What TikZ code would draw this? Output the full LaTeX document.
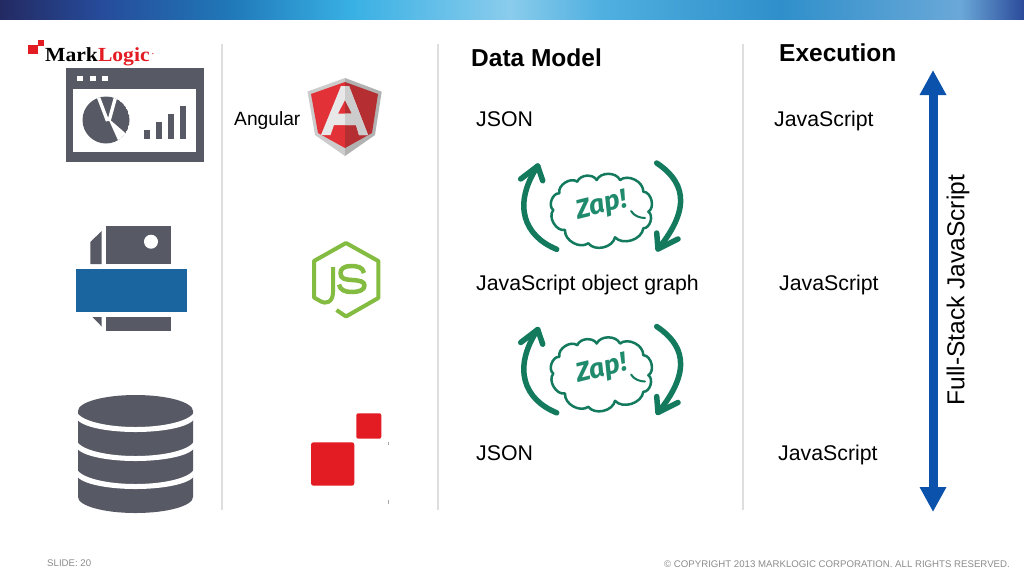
\documentclass[tikz,border=0pt]{standalone}
\usepackage{fontspec}
\setmainfont{Liberation Sans}
\newfontfamily\logofont{Liberation Serif}
\newfontfamily\zapfont{Fira Sans}
\usetikzlibrary{arrows.meta}
\definecolor{iconGray}{HTML}{575A65}
\definecolor{sepGray}{HTML}{DEDEDE}
\definecolor{printBlue}{HTML}{1A659F}
\definecolor{mlRed}{HTML}{E31B23}
\definecolor{zapGreen}{HTML}{137A5E}
\definecolor{zapText}{HTML}{1F8A6C}
\definecolor{arrowBlue}{HTML}{0B52AD}
\definecolor{jsGreen}{HTML}{83BC41}
\definecolor{footGray}{HTML}{8C8C8C}
\definecolor{shieldL}{HTML}{E23237}
\definecolor{shieldR}{HTML}{B52E31}
\definecolor{barA}{RGB}{35,42,98}
\definecolor{barB}{RGB}{38,75,154}
\definecolor{barC}{RGB}{32,120,184}
\definecolor{barD}{RGB}{56,176,228}
\definecolor{barE}{RGB}{138,204,236}
\definecolor{barF}{RGB}{80,176,224}
\definecolor{barG}{RGB}{47,143,202}
\definecolor{barH}{RGB}{106,168,216}
\definecolor{barI}{RGB}{43,74,154}
\pgfdeclarehorizontalshading{topbar}{100bp}{
 color(0bp)=(barA);
 color(25bp)=(barA);
 color(29.9bp)=(barB);
 color(36.2bp)=(barC);
 color(42.1bp)=(barD);
 color(49.9bp)=(barE);
 color(54.3bp)=(barF);
 color(63.1bp)=(barG);
 color(71.9bp)=(barH);
 color(75bp)=(barI);
 color(100bp)=(barI)}
\tikzset{
 sep/.style={draw=sepGray,line width=2pt},
 icon/.style={fill=iconGray,draw=none},
 txt/.style={anchor=base west,inner sep=0pt,font=\fontsize{21.3}{25}\selectfont,text=black},
 head/.style={anchor=base west,inner sep=0pt,font=\fontsize{24.5}{29}\selectfont\bfseries,text=black},
 foot/.style={inner sep=0pt,font=\fontsize{9.65}{11}\selectfont,text=footGray},
 zaparrow/.style={draw=zapGreen,line width=5.5pt,line cap=round,line join=round},
 cloud line/.style={draw=zapGreen,line width=2.5pt,fill=white,line join=round},
 jsline/.style={draw=jsGreen,line width=4pt,line join=round},
 bluearrow/.style={draw=arrowBlue,line width=9pt,{Triangle[length=25pt,width=25pt]}-{Triangle[length=25pt,width=25pt]}}
}
\newcommand{\zapgroup}[3]{%
 \begin{scope}[yshift=#1]
  \coordinate (#2LA) at (556.7,249.3);
  \coordinate (#2LT) at (537.7,166);
  \coordinate (#2RA) at (656.7,163);
  \coordinate (#2RT) at (658,249);
  \draw[zaparrow] (#2LA) .. controls (524,236) and (512,205) .. (#2LT);
  \draw[zaparrow] (520.7,179) -- (#2LT) -- (542.7,180.7);
  \draw[zaparrow] (#2RA) .. controls (682,180) and (694,205) .. (#2RT);
  \draw[zaparrow] (656.7,233) -- (#2RT) -- (678,239);
  \draw[cloud line] (553.3,210) to[bend left=75] (559.3,193.3) to[bend left=70] (577.3,181.7)
    to[bend left=65] (596.7,180) to[bend left=65] (620,180) to[bend left=65] (643.3,191.7)
    to[bend left=75] (648.3,211.7) to[bend left=75] (643.3,228.3) to[bend left=65] (615,237.3)
    to[bend left=65] (588.3,243.3) to[bend left=65] (565,230) to[bend left=70] cycle;
  \draw[draw=zapGreen,line width=2pt,line cap=round] (631,211) .. controls (634,216) and (640,218) .. (645,218);
  \node[inner sep=0pt,rotate=14,text=zapText,font=\fontsize{27}{30}\selectfont\zapfont\bfseries\itshape] (#2) at (#3) {Zap!};
 \end{scope}}
\begin{document}
\begin{tikzpicture}[x=1pt,y=-1pt]
\useasboundingbox (0,0) rectangle (1024,576);
\fill[white] (0,0) rectangle (1024,576);
% top bar
\shade[shading=topbar] (0,0) rectangle (1024,20);
\fill[white] (0,20) rectangle (1024,21);
% logo
\fill[mlRed] (28,45) rectangle (37.5,54);
\fill[mlRed] (38,40) rectangle (44,45.5);
\node[anchor=base west,inner sep=0pt,xscale=1.08,font=\fontsize{20}{22}\selectfont\logofont\bfseries] (logo) at (45,61) {Mark\textcolor{mlRed}{Logic}};
\fill[mlRed!70] (152.8,53.5) circle (0.8);
% separators
\draw[sep] (221.5,44) -- (221.5,510);
\draw[sep] (437.5,44) -- (437.5,510);
\draw[sep] (743,44) -- (743,510);
% window icon
\fill[icon] (66,68) rectangle (204,162);
\fill[white] (73,89) rectangle (196,152);
\foreach \x in {77,89.5,102}{\fill[white] (\x,75.5) rectangle (\x+6.3,81);}
\begin{scope}
 \clip (106,120) circle (23.5);
 \fill[icon] (106,120) circle (23.5);
 \draw[white,line width=3.4pt] (96.5,92) -- (107.5,121);
 \draw[white,line width=3.4pt] (117,92) -- (109,121);
 \fill[white] (108,118) -- (131,138) -- (121,147) -- cycle;
\end{scope}
\fill[icon] (144,130) rectangle (150,139);
\fill[icon] (156,122) rectangle (162,139);
\fill[icon] (168,114) rectangle (174,139);
\fill[icon] (180,105.5) rectangle (186,139);
% printer icon
\fill[icon] (106,226) rectangle (170.7,264);
\fill[white] (151,241.7) circle (7);
\fill[icon] (90.3,242) -- (101.7,231) -- (101.7,264) -- (90.3,264) -- cycle;
\fill[printBlue] (75.5,269) rectangle (187,312);
\fill[icon] (106,317) rectangle (170.7,331);
\fill[icon] (92.5,317) -- (101.7,317) -- (101.7,326.5) -- cycle;
% database icon
\fill[icon] (78,411) arc[start angle=180,end angle=360,x radius=57.5,y radius=16]
  -- (193,497) arc[start angle=0,end angle=180,x radius=57.5,y radius=16] -- cycle;
\foreach \y in {417,446,474}{
 \fill[white] (76.5,\y-7) arc[start angle=180,end angle=0,x radius=59,y radius=17]
   -- (194.5,\y) arc[start angle=0,end angle=180,x radius=59,y radius=15] -- cycle;}
% Angular
\node[anchor=base west,inner sep=0pt,font=\fontsize{19.2}{23}\selectfont] (angular) at (234,125.5) {Angular};
\fill[black!20] (345,78) -- (307.5,91.5) -- (315,135) -- (345,156) -- cycle;
\fill[black!30] (345,78) -- (381.7,91.7) -- (375,135) -- (345,156) -- cycle;
\fill[shieldL] (345,82) -- (311,94) -- (318,133) -- (345,148) -- cycle;
\fill[shieldR] (345,82) -- (378,94) -- (372,133) -- (345,148) -- cycle;
\fill[black!9,even odd rule] (341,86) -- (349,86) -- (368,135) -- (359,135) -- (356,125) -- (334,125) -- (330.5,135) -- (321,135) -- cycle
  (345,100) -- (352,113.5) -- (338,113.5) -- cycle;
\begin{scope}
 \clip (345,80) rectangle (370,140);
 \fill[black!20,even odd rule] (341,86) -- (349,86) -- (368,135) -- (359,135) -- (356,125) -- (334,125) -- (330.5,135) -- (321,135) -- cycle
  (345,100) -- (352,113.5) -- (338,113.5) -- cycle;
\end{scope}
% Node JS
\draw[jsline] (333,267) -- (333,292) .. controls (333,303) and (325,304) .. (321,301.5) -- (314,297.5) -- (314,261) -- (346,243) -- (378.3,261) -- (378.3,298) -- (346,316.5) -- (336.5,310);
\draw[jsline,line width=4.5pt] (364,273) .. controls (363,267) and (357,266) .. (351,266) .. controls (344,266) and (340.5,269) .. (340.5,273) .. controls (340.5,279) and (345,279.5) .. (352,280) .. controls (360,280.5) and (364.5,281.5) .. (364.5,285.5) .. controls (364.5,290) and (359,292) .. (352,292) .. controls (345,292) and (340,290) .. (339,284.5);
% red squares
\fill[mlRed,rounded corners=2.5pt] (311,442.3) rectangle (354.3,485.7);
\fill[mlRed,rounded corners=2pt] (356.3,413.3) rectangle (381.3,438.7);
\fill[black!35] (387.6,441.5) rectangle (388.4,445);
\fill[black!35] (387.6,500) rectangle (388.4,504);
% headings and labels
\node[head] (dm) at (471,66) {Data Model};
\node[head] (ex) at (779,61) {Execution};
\node[txt] (j1) at (476,126) {JSON};
\node[txt] (j2) at (476,290) {JavaScript object graph};
\node[txt] (j3) at (476,460) {JSON};
\node[txt] (e1) at (774,126) {JavaScript};
\node[txt] (e2) at (779,290) {JavaScript};
\node[txt] (e3) at (778,460) {JavaScript};
% zaps
\zapgroup{0pt}{zapA}{601.7,206.7}
\zapgroup{-163.5pt}{zapB}{601.7,206.5}
% full stack arrow
\coordinate (fsTop) at (933,70);
\coordinate (fsBot) at (933,512);
\draw[bluearrow] (fsTop) -- (fsBot);
\node[rotate=90,inner sep=0pt,font=\fontsize{24.5}{29}\selectfont] (fs) at (958,290) {Full-Stack JavaScript};
% footer
\node[foot,anchor=base west] (slide) at (47,566.5) {SLIDE: 20};
\node[foot,anchor=base east] (copy) at (1010,567) {© COPYRIGHT 2013 MARKLOGIC CORPORATION. ALL RIGHTS RESERVED.};
\end{tikzpicture}
\end{document}
